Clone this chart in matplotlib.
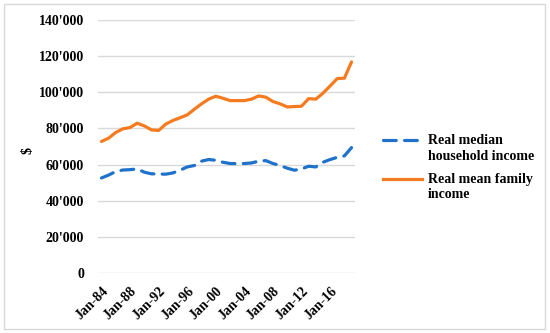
import matplotlib
matplotlib.use('Agg')
import matplotlib.pyplot as plt
from matplotlib.lines import Line2D
from matplotlib.patches import Rectangle
from matplotlib.ticker import FuncFormatter

# Font: bold serif like the original
plt.rcParams['font.family'] = ['Liberation Serif', 'DejaVu Serif']
plt.rcParams['font.weight'] = 'bold'
plt.rcParams['font.size'] = 10

# Data
years = list(range(1984, 2020))
median_household = [52600, 54200, 56200, 57000, 57200, 57600, 55800, 54900, 54800, 54700,
                    55400, 56900, 58700, 59500, 61900, 62800, 62400, 61300, 60600, 60500,
                    60600, 60900, 61900, 62200, 60600, 59500, 58000, 56900, 57600, 59100,
                    58700, 61300, 62800, 64000, 64800, 69400]
mean_family = [72800, 74600, 77800, 79800, 80500, 82900, 81400, 79200, 78900, 82400,
               84400, 85900, 87500, 90600, 93600, 96200, 97800, 96700, 95400, 95400,
               95400, 96200, 98000, 97300, 94900, 93600, 91900, 92100, 92300, 96500,
               96200, 99500, 103500, 107600, 107800, 116800]
tick_years = list(range(1984, 2017, 4))
tick_labels = ["Jan-%02d" % (y % 100) for y in tick_years]
y_ticks = list(range(0, 140001, 20000))

blue = '#1F72CC'
orange = '#F47B20'

fig = plt.figure(figsize=(5.5, 3.33), dpi=100)
ax = fig.add_axes([0.178, 0.180, 0.467, 0.760])

ax.plot(years, median_household, color=blue, linewidth=2.3, dashes=(4.0, 2.6),
        solid_capstyle='round', dash_capstyle='round')
ax.plot(years, mean_family, color=orange, linewidth=2.3, solid_capstyle='round')

ax.set_xlim(1983.5, 2019.45)
ax.set_ylim(0, 140000)
ax.set_yticks(y_ticks)
ax.yaxis.set_major_formatter(FuncFormatter(lambda v, p: "{:,}".format(int(v)).replace(',', "'")))
ax.set_xticks(tick_years)
ax.set_xticklabels(tick_labels, rotation=45, ha='right', rotation_mode='anchor')

ax.grid(axis='y', color='#D9D9D9', linewidth=1)
ax.set_axisbelow(True)
for s in ax.spines.values():
    s.set_visible(False)
ax.tick_params(length=0, labelsize=10)
ax.tick_params(axis='x', pad=8)
ax.tick_params(axis='y', pad=10)

fig.text(28 / 550, 1 - 150 / 333, '$', rotation=90, ha='center', va='center', fontsize=10)

# Legend drawn by hand so the handle sits beside the first text line
def fy(py):
    return 1 - py / 333

fig.add_artist(Line2D([383 / 550, 422 / 550], [fy(140), fy(140)], color=blue, linewidth=2.3,
                      dashes=(4.0, 2.6), dash_capstyle='round'))
fig.text(428 / 550, fy(140), 'Real median', ha='left', va='center', fontsize=10)
fig.text(428 / 550, fy(156), 'household income', ha='left', va='center', fontsize=10)
fig.add_artist(Line2D([383 / 550, 422 / 550], [fy(179), fy(179)], color=orange, linewidth=2.3))
fig.text(428 / 550, fy(179), 'Real mean family', ha='left', va='center', fontsize=10)
fig.text(428 / 550, fy(194), 'income', ha='left', va='center', fontsize=10)

# Chart area border
fig.add_artist(Rectangle((4 / 550, 4 / 333), 541 / 550, 325 / 333, transform=fig.transFigure,
                         fill=False, edgecolor='#D9D9D9', linewidth=1))

fig.savefig('out.png', dpi=100)
